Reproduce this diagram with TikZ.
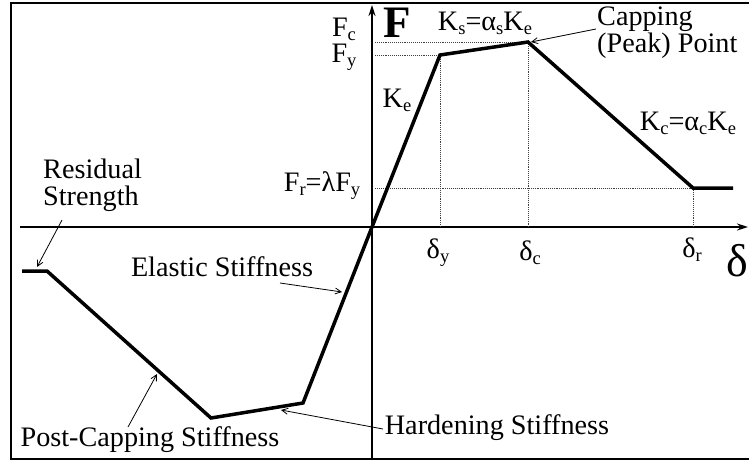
\documentclass[tikz,border=0pt]{standalone}
\usepackage{fontspec}
\setmainfont{Liberation Serif}
\usetikzlibrary{arrows.meta}
\newcommand\sbs[1]{\raisebox{-0.3ex}{\fontsize{18.5}{18.5}\selectfont #1}}
\begin{document}
\begin{tikzpicture}[x=1pt,y=-1pt,
  lbl/.style={font=\fontsize{28.2}{26.5}\selectfont, inner sep=0pt},
  curve/.style={line width=3.5pt, line join=miter},
  axis/.style={line width=1.6pt},
  guide/.style={densely dotted, line width=0.9pt, black!75},
  pointer/.style={line width=0.8pt, -{Straight Barb[length=6pt,width=6pt]}}]
\useasboundingbox (0,0) rectangle (749,461);
\draw[line width=1.8pt] (749,3) -- (11,3) -- (11,459) -- (749,459);
% key points
\coordinate (O) at (372,227);
\coordinate (Y) at (440,55);
\coordinate (C) at (528,42);
\coordinate (R) at (693,188);
\coordinate (E) at (733,188);
\coordinate (Yn) at (303,403);
\coordinate (Cn) at (211,418);
\coordinate (Rn) at (47,271);
\coordinate (En) at (22,271);
% axes
\coordinate (vb) at (372,459);
\coordinate (vt) at (372,5);
\coordinate (hl) at (20,227);
\coordinate (hr) at (748,227);
\draw[axis, -{Stealth[length=11pt,width=7pt]}] (vb) -- (vt);
\draw[axis, -{Stealth[length=11pt,width=7pt]}] (hl) -- (hr);
% guides
\coordinate (gc) at (375,42);
\coordinate (gy) at (375,55);
\coordinate (gr) at (375,188);
\coordinate (xy) at (440,227);
\coordinate (xc) at (528,227);
\coordinate (xr) at (693,227);
\draw[guide] (gc) -- (C);
\draw[guide] (gy) -- (Y);
\draw[guide] (gr) -- (R);
\draw[guide] (Y) -- (xy);
\draw[guide] (C) -- (xc);
\draw[guide] (R) -- (xr);
% backbone
\draw[curve] (En) -- (Rn) -- (Cn) -- (Yn) -- (O) -- (Y) -- (C) -- (R) -- (E);
% labels
\node[lbl] (fc) at (344,29) {F\sbs{c}};
\node[lbl] (fy) at (344,57) {F\sbs{y}};
\node[font=\fontsize{45}{45}\selectfont\bfseries, inner sep=0pt] (F) at (397,23) {F};
\node[lbl] (ks) at (485,23) {K\sbs{s}=α\sbs{s}K\sbs{e}};
\node[lbl, align=left, anchor=north west] (cap) at (597,7) {Capping\\(Peak) Point};
\node[lbl] (ke) at (397,100) {K\sbs{e}};
\node[lbl] (kc) at (688,123) {K\sbs{c}=α\sbs{c}K\sbs{e}};
\node[lbl] (fr) at (322,186) {F\sbs{r}=λF\sbs{y}};
\node[lbl] (dy) at (438,253) {δ\sbs{y}};
\node[lbl] (dc) at (530,253) {δ\sbs{c}};
\node[lbl] (dr) at (692,250) {δ\sbs{r}};
\node[font=\fontsize{46}{46}\selectfont, inner sep=0pt] (delta) at (737,261) {δ};
\node[lbl, align=left, anchor=north west] (res) at (43,159) {Residual\\Strength};
\node[lbl] (el) at (222,267) {Elastic Stiffness};
\node[lbl] (pc) at (150,440) {Post-Capping Stiffness};
\node[lbl] (hs) at (497,428) {Hardening Stiffness};
% pointers
\coordinate (pCap) at (596,29);
\coordinate (tCap) at (531,42);
\coordinate (pRes) at (62,220);
\coordinate (tRes) at (37,267);
\coordinate (pEl) at (280,283);
\coordinate (tEl) at (342,292);
\coordinate (pPc) at (128,427);
\coordinate (tPc) at (157,374);
\coordinate (pHs) at (383,429);
\coordinate (tHs) at (281,410);
\draw[pointer] (pCap) -- (tCap);
\draw[pointer] (pRes) -- (tRes);
\draw[pointer] (pEl) -- (tEl);
\draw[pointer] (pPc) -- (tPc);
\draw[pointer] (pHs) -- (tHs);
\end{tikzpicture}
\end{document}
